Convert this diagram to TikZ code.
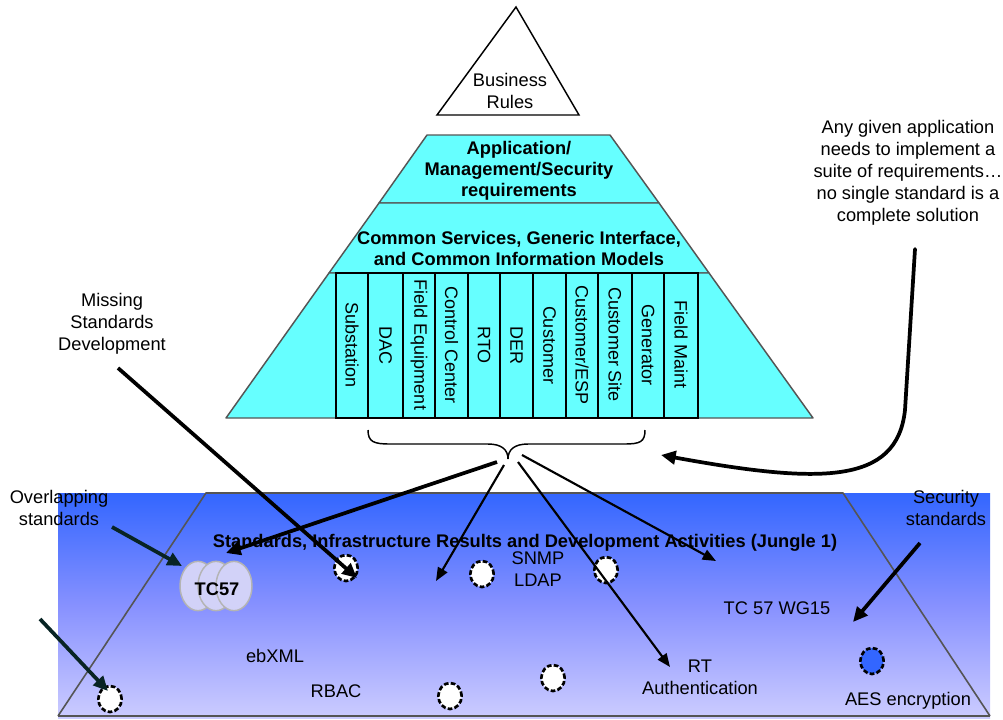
\documentclass[tikz,border=0pt]{standalone}
\usepackage{fontspec}
\setmainfont{Liberation Sans}
\usetikzlibrary{arrows.meta,shapes.geometric}
\definecolor{cyanfill}{RGB}{102,255,255}
\definecolor{edgegray}{RGB}{85,85,85}
\definecolor{topblue}{RGB}{51,102,255}
\definecolor{midblue}{RGB}{135,145,255}
\definecolor{botlav}{RGB}{204,204,255}
\definecolor{cloudfill}{RGB}{210,210,248}
\definecolor{cloudedge}{RGB}{180,180,180}
\definecolor{darkteal}{RGB}{8,36,36}
\definecolor{aesblue}{RGB}{51,102,255}
\begin{document}
\begin{tikzpicture}[x=0.75pt,y=-0.75pt,
  txt/.style={font=\fontsize{13.7}{16.5}\selectfont, align=center, inner sep=0pt},
  btxt/.style={font=\fontsize{13.7}{15.8}\selectfont\bfseries, align=center, inner sep=0pt},
  coltxt/.style={font=\fontsize{13.5}{16}\selectfont, inner sep=0pt, rotate=-90},
  pyr/.style={fill=cyanfill, draw=edgegray, line width=1.1pt, line join=round},
  hole/.style={shape=ellipse, draw=black, fill=white, line width=2pt, dash pattern=on 3.5pt off 1.7pt, minimum width=17.5pt, minimum height=19.5pt, inner sep=0pt},
  cloudc/.style={shape=ellipse, draw=cloudedge, fill=cloudfill, line width=1.1pt, minimum width=27pt, minimum height=37pt, inner sep=0pt},
  thickarr/.style={line width=2.8pt, -{Triangle[length=11pt,width=10pt]}},
  thinarr/.style={line width=1.6pt, -{Triangle[length=10pt,width=8pt]}}
]
\useasboundingbox (0,0) rectangle (1003,719);
\fill[white] (0,0) rectangle (1003,719);

% ---------- bottom jungle area ----------
\shade[top color=topblue, bottom color=botlav, middle color=midblue] (58,493) rectangle (990,718);
\draw[edgegray, line width=1.2pt, line join=round] (58,716) -- (206,493) -- (843,493) -- (990,716);
\draw[edgegray, line width=2pt] (58,716) -- (990,716);

% ---------- pyramid ----------
\draw[black, line width=1.1pt, fill=white] (516,7) -- (437,115) -- (579,115) -- cycle;
\node[txt] (br) at (510,91) {Business\\Rules};

\draw[pyr] (427,135) -- (610,135) -- (659,203) -- (379,203) -- cycle;
\draw[pyr] (379,203) -- (659,203) -- (709,273) -- (329,273) -- cycle;
\draw[pyr] (329,273) -- (709,273) -- (813,418) -- (226,418) -- cycle;

\node[btxt] (app) at (519,171) {Application/\\Management/Security\\requirements};
\node[btxt] (cs) at (519,248) {Common Services, Generic Interface,\\and Common Information Models};

% columns
\draw[black, line width=1.5pt] (336,273) rectangle (698,418);
\foreach \x in {368,403,435,468,500,533,566,598,632,664}
  \draw[black, line width=1.5pt] (\x,273) -- (\x,418);
\node[coltxt] (k1) at (352,345) {Substation};
\node[coltxt] (k2) at (385.5,345) {DAC};
\node[coltxt] (k3) at (419,345) {Field Equipment};
\node[coltxt] (k4) at (451.5,345) {Control Center};
\node[coltxt] (k5) at (484,345) {RTO};
\node[coltxt] (k6) at (516.5,345) {DER};
\node[coltxt] (k7) at (549.5,345) {Customer};
\node[coltxt] (k8) at (582,345) {Customer/ESP};
\node[coltxt] (k9) at (615,345) {Customer Site};
\node[coltxt] (k10) at (648,345) {Generator};
\node[coltxt] (k11) at (681,345) {Field Maint};

% brace
\coordinate (btip) at (508,459);
\draw[black, line width=1.1pt] (368,430) .. controls (368,442) and (374,444) .. (390,444) -- (488,444)
  .. controls (502,444) and (508,450) .. (btip)
  .. controls (508,450) and (514,444) .. (528,444) -- (624,444)
  .. controls (640,444) and (645,442) .. (645,430);

% ---------- holes and cloud ----------
\node[hole] (h1) at (346,568) {};
\node[hole] (h2) at (482,574) {};
\node[hole] (h3) at (606,570) {};
\node[hole] (h4) at (110,699) {};
\node[hole] (h5) at (450,696) {};
\node[hole] (h6) at (553,678) {};
\node[hole, fill=aesblue] (h7) at (872,661) {};

\node[cloudc] (tc1) at (198,586) {};
\node[cloudc] (tc2) at (216,586) {};
\node[cloudc] (tc3) at (234,586) {};
\node[btxt] (tc) at (217,589) {TC57};

% ---------- texts ----------
\node[btxt] (jungle) at (525,543) {Standards, Infrastructure Results and Development Activities (Jungle 1)};
\node[txt] (snmp) at (538,569) {SNMP\\LDAP};
\node[txt] (wg15) at (777,608) {TC 57 WG15};
\node[txt] (ebxml) at (275,656) {ebXML};
\node[txt] (rbac) at (336,691) {RBAC};
\node[txt] (rt) at (700,677) {RT\\Authentication};
\node[txt] (aes) at (908,701) {AES encryption};

\node[txt] (miss) at (112,324) {Missing\\Standards\\Development};
\node[txt] (over) at (59,508) {Overlapping\\standards};
\node[txt] (sec) at (946,508) {Security\\standards};
\node[txt] (any) at (908,173) {Any given application\\needs to implement a\\suite of requirements\ldots\\no single standard is a\\complete solution};

% ---------- arrows ----------
\coordinate (missS) at (118,368);
\coordinate (missE) at (357,578);
\draw[thickarr, black] (missS) -- (missE);

\coordinate (overS) at (112,527);
\coordinate (overE) at (182,566);
\draw[thickarr, darkteal] (overS) -- (overE);

\coordinate (blS) at (40,619);
\coordinate (blE) at (108,691);
\draw[thickarr, darkteal] (blS) -- (blE);

\coordinate (secS) at (920,543);
\coordinate (secE) at (853,622);
\draw[thickarr, black] (secS) -- (secE);

\coordinate (curS) at (915,249);
\coordinate (curM) at (905,410);
\coordinate (curC1) at (897,485);
\coordinate (curC2) at (820,484);
\coordinate (curE) at (661,455);
\draw[thickarr, black, line cap=round] (curS) -- (curM) .. controls (curC1) and (curC2) .. (curE);

\coordinate (a1S) at (497,462);
\coordinate (a1E) at (226,553);
\draw[thickarr, black] (a1S) -- (a1E);
\coordinate (a2S) at (504,465);
\coordinate (a2E) at (436,581);
\draw[thinarr, black] (a2S) -- (a2E);
\coordinate (a3S) at (518,462);
\coordinate (a3E) at (670,667);
\draw[thinarr, black] (a3S) -- (a3E);
\coordinate (a4S) at (522,455);
\coordinate (a4E) at (716,561);
\draw[thinarr, black] (a4S) -- (a4E);
\end{tikzpicture}
\end{document}
